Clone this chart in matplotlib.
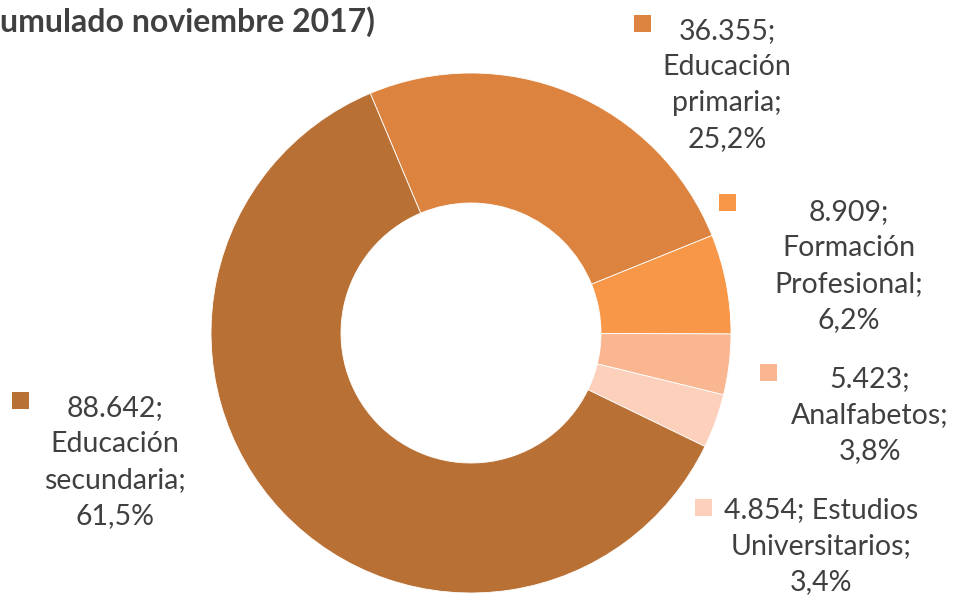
import matplotlib
matplotlib.use("Agg")
import matplotlib.pyplot as plt
from matplotlib.patches import Rectangle

categories = ["Educación primaria", "Formación Profesional", "Analfabetos",
              "Estudios Universitarios", "Educación secundaria"]
values = [36355, 8909, 5423, 4854, 88642]
value_labels = ["36.355", "8.909", "5.423", "4.854", "88.642"]
pct_labels = ["25,2%", "6,2%", "3,8%", "3,4%", "61,5%"]
label_texts = [
    "36.355;\nEducación\nprimaria;\n25,2%",
    "8.909;\nFormación\nProfesional;\n6,2%",
    "5.423;\nAnalfabetos;\n3,8%",
    "4.854; Estudios\nUniversitarios;\n3,4%",
    "88.642;\nEducación\nsecundaria;\n61,5%",
]
colors = ["#DC843F", "#F79747", "#F9B690", "#FCD0BA", "#B97034"]
title_text = "umulado noviembre 2017)"

W, H = 955, 596
fig = plt.figure(figsize=(W / 100, H / 100), dpi=100)
plt.rcParams['font.family'] = ['Lato', 'DejaVu Sans']

cx, cy, r = 471, 333, 260
ax = fig.add_axes([(cx - r) / W, (H - cy - r) / H, 2 * r / W, 2 * r / H])
ax.pie(values, colors=colors, startangle=112.8, counterclock=False,
       radius=1.0, wedgeprops=dict(width=0.5, edgecolor="white", linewidth=0.6))
ax.set_xlim(-1, 1)
ax.set_ylim(-1, 1)
ax.set_aspect("equal")
ax.axis("off")

txt_color = "#404040"
# label text centers (px) and square centers (px)
label_pos = [(727, 85), (849, 266), (870, 415), (821, 546), (115, 462)]
square_pos = [(642, 23), (727, 203), (768, 372), (703, 507), (20, 400)]
for txt, (lx, ly), (sx, sy), c in zip(label_texts, label_pos, square_pos, colors):
    fig.text(lx / W, 1 - ly / H, txt, ha="center", va="center",
             fontsize=20.5, color=txt_color, linespacing=1.48)
    s = 17
    fig.patches.append(Rectangle(((sx - s / 2) / W, 1 - (sy + s / 2) / H),
                                 s / W, s / H, transform=fig.transFigure,
                                 facecolor=c, edgecolor="none"))

fig.text(0, 1 - 22 / H, title_text, ha="left", va="center",
         fontsize=23, fontweight="bold", color=txt_color)

fig.savefig("out.png", dpi=100, facecolor="white")
